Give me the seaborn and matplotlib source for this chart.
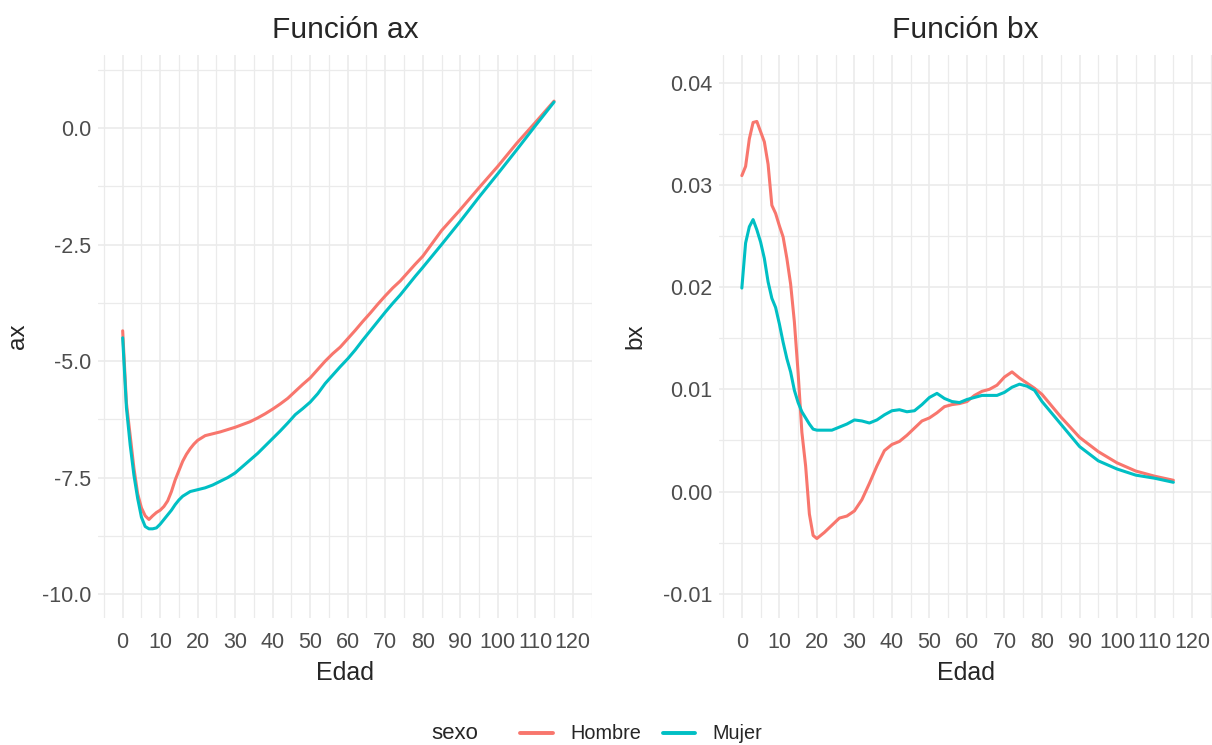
import numpy as np
import pandas as pd
import matplotlib
matplotlib.use("Agg")
import matplotlib.pyplot as plt
from matplotlib.lines import Line2D
import seaborn as sns

# ages (shared by every series)
edad = list(range(0, 21)) + list(range(22, 81, 2)) + list(range(85, 116, 5))

# ax  (mean log mortality)
ax_hombre = [-4.35, -5.9, -6.6, -7.3, -7.85, -8.15, -8.32, -8.4, -8.32, -8.25,
             -8.2, -8.12, -8.0, -7.8, -7.55, -7.35, -7.15, -7.0, -6.88, -6.78,
             -6.7, -6.6, -6.56, -6.52, -6.47, -6.42, -6.36, -6.3, -6.22, -6.13,
             -6.03, -5.92, -5.8, -5.65, -5.5, -5.36, -5.18, -5.0, -4.84, -4.7,
             -4.52, -4.34, -4.15, -3.97, -3.78, -3.6, -3.43, -3.28, -3.1, -2.92,
             -2.75, -2.2, -1.75, -1.28, -0.82, -0.33, 0.12, 0.58]
ax_mujer = [-4.5, -6.0, -6.8, -7.45, -7.95, -8.35, -8.55, -8.6, -8.6, -8.58,
            -8.5, -8.4, -8.3, -8.2, -8.08, -7.98, -7.9, -7.85, -7.8, -7.78,
            -7.76, -7.72, -7.66, -7.58, -7.5, -7.4, -7.26, -7.12, -6.98, -6.82,
            -6.66, -6.5, -6.33, -6.15, -6.02, -5.88, -5.7, -5.48, -5.3, -5.12,
            -4.95, -4.76, -4.55, -4.35, -4.15, -3.95, -3.76, -3.58, -3.38, -3.18,
            -2.99, -2.5, -2.0, -1.48, -0.98, -0.47, 0.05, 0.56]

# bx  (age sensitivity)
bx_hombre = [0.0309, 0.0318, 0.0345, 0.0361, 0.0362, 0.0352, 0.0342, 0.032, 0.028, 0.0272,
             0.026, 0.0249, 0.0228, 0.0203, 0.0166, 0.0116, 0.0058, 0.0025, -0.0022, -0.0043,
             -0.0046, -0.004, -0.0033, -0.0026, -0.0024, -0.0019, -0.0008, 0.0008, 0.0025, 0.004,
             0.0046, 0.0049, 0.0055, 0.0062, 0.0069, 0.0072, 0.0077, 0.0083, 0.0085, 0.0086,
             0.0088, 0.0094, 0.0098, 0.01, 0.0104, 0.0112, 0.0117, 0.0111, 0.0106, 0.0101,
             0.0095, 0.0073, 0.0053, 0.0039, 0.0028, 0.002, 0.0015, 0.0011]
bx_mujer = [0.0199, 0.0243, 0.0259, 0.0266, 0.0256, 0.0244, 0.0228, 0.0205, 0.0189, 0.018,
            0.0164, 0.0146, 0.013, 0.0117, 0.0099, 0.0087, 0.0078, 0.0072, 0.0066, 0.0061,
            0.006, 0.006, 0.006, 0.0063, 0.0066, 0.007, 0.0069, 0.0067, 0.007, 0.0075,
            0.0079, 0.008, 0.0078, 0.0079, 0.0085, 0.0092, 0.0096, 0.0091, 0.0088, 0.0087,
            0.009, 0.0092, 0.0094, 0.0094, 0.0094, 0.0097, 0.0102, 0.0105, 0.0103, 0.0099,
            0.0088, 0.0066, 0.0044, 0.003, 0.0022, 0.0016, 0.0013, 0.0009]

sexos = ["Hombre", "Mujer"]
colores = {"Hombre": "#F8766D", "Mujer": "#00BFC4"}

df = pd.DataFrame({
    "Edad": edad * 2,
    "sexo": ["Hombre"] * len(edad) + ["Mujer"] * len(edad),
    "ax": ax_hombre + ax_mujer,
    "bx": bx_hombre + bx_mujer,
})

sns.set_style("white")
plt.rcParams["font.family"] = ["Liberation Sans", "DejaVu Sans"]

fig = plt.figure(figsize=(12.12, 7.45), dpi=100)
ax1 = fig.add_axes([0.0811, 0.1701, 0.4073, 0.7561])
ax2 = fig.add_axes([0.5935, 0.1701, 0.4065, 0.7561])

grid_col = "#EBEBEB"
txt_col = "#4D4D4D"

panels = [
    (ax1, "ax", "Función ax", (-6.5, 125.1), (-10.52, 1.57),
     [-10, -7.5, -5, -2.5, 0], ["-10.0", "-7.5", "-5.0", "-2.5", "0.0"],
     [-8.75, -6.25, -3.75, -1.25, 1.25], 9),
    (ax2, "bx", "Función bx", (-6.0, 125.3), (-0.0124, 0.0427),
     [-0.01, 0.0, 0.01, 0.02, 0.03, 0.04], ["-0.01", "0.00", "0.01", "0.02", "0.03", "0.04"],
     [-0.005, 0.005, 0.015, 0.025, 0.035], 12),
]

for a, col, title, xl, yl, yt, ytl, ymin, ylpad in panels:
    sns.lineplot(data=df, x="Edad", y=col, hue="sexo", hue_order=sexos,
                 palette=colores, linewidth=2.2, legend=False, ax=a, zorder=3)
    a.set_xlim(*xl)
    a.set_ylim(*yl)
    a.set_xticks(range(0, 121, 10))
    a.set_xticks(range(-5, 126, 10), minor=True)
    a.set_yticks(yt)
    a.set_yticklabels(ytl)
    a.set_yticks(ymin, minor=True)
    a.grid(True, which="major", color=grid_col, linewidth=1.2, zorder=0)
    a.grid(True, which="minor", color=grid_col, linewidth=0.9, zorder=0)
    a.set_axisbelow(True)
    for s in a.spines.values():
        s.set_visible(False)
    a.tick_params(which="both", length=0, labelsize=15.5, labelcolor=txt_col)
    a.tick_params(axis="x", pad=10)
    a.tick_params(axis="y", pad=5)
    a.set_xlabel("Edad", fontsize=18, labelpad=6)
    a.set_ylabel(col, fontsize=17.5, labelpad=ylpad)
    a.set_title(title, fontsize=21.5, pad=12)

# legend at the bottom, title on the left like ggplot
fig.text(0.375, 0.0148, "sexo", fontsize=16, ha="center", va="center")
handles = [Line2D([0], [0], color=colores[s], lw=2.8) for s in sexos]
fig.legend(handles, sexos, loc="center", bbox_to_anchor=(0.529, 0.0148), ncol=2,
           frameon=False, fontsize=14.3, handlelength=1.65, handletextpad=0.85,
           columnspacing=1.1)

fig.savefig("out.png", dpi=100, facecolor="white")
